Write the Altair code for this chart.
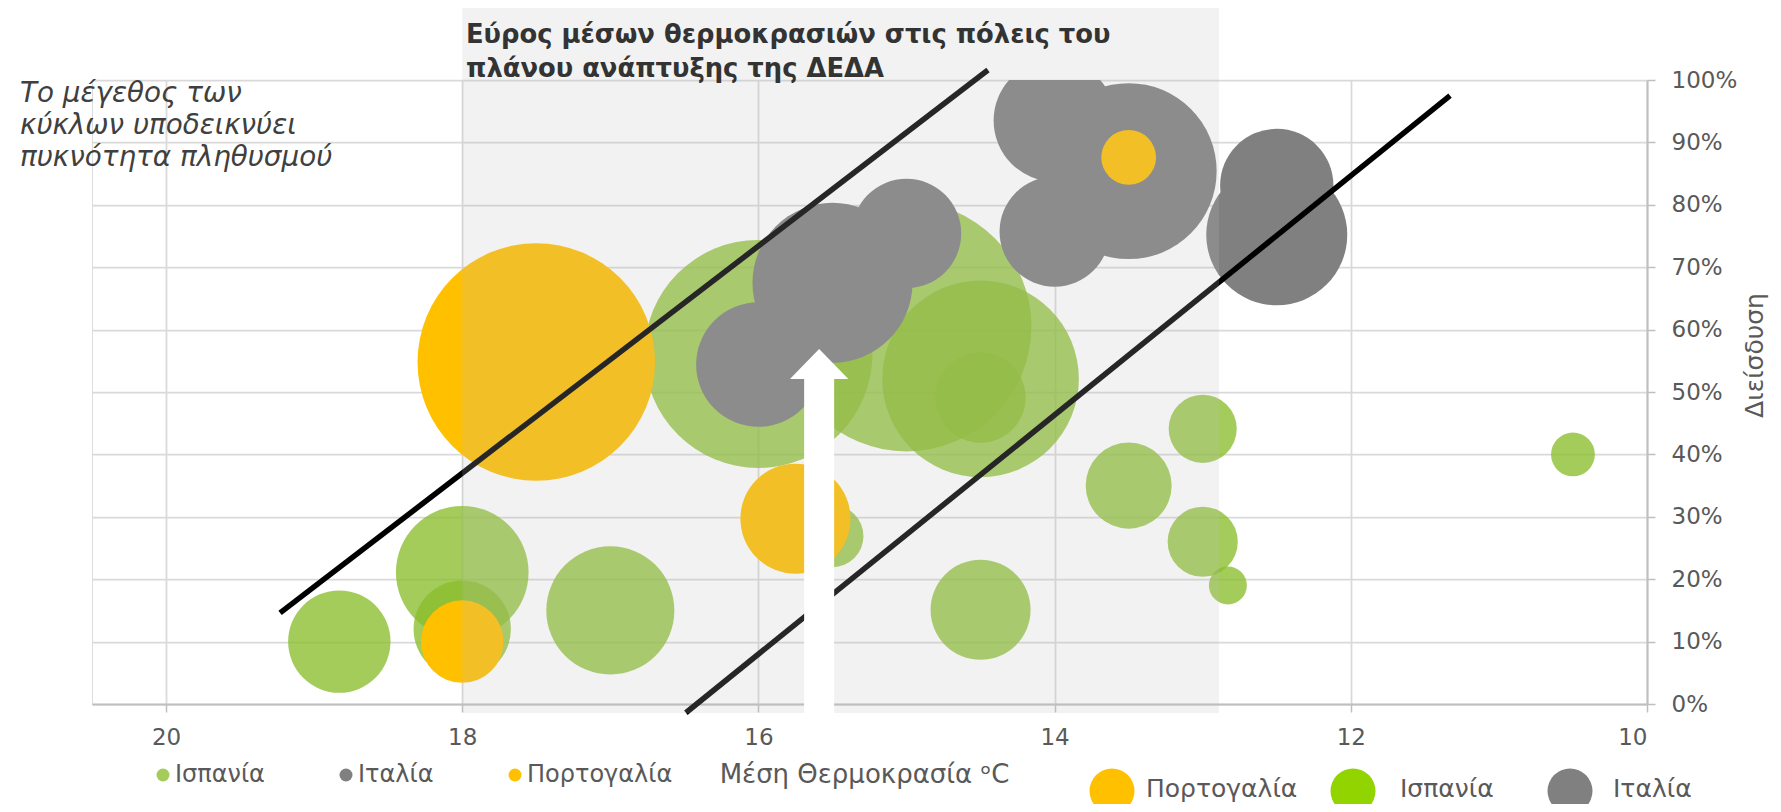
import altair as alt
import pandas as pd

# ---------------- data ----------------
countries = ["Ισπανία", "Ιταλία", "Πορτογαλία"]

es_temp = [18.83, 18.0, 18.0, 17.0, 16.0, 15.0, 14.5, 14.5, 13.5, 13.0, 13.0, 12.83, 10.5, 14.5, 15.5]
es_pen = [10.0, 21.1, 12.0, 15.0, 56.1, 60.5, 52.1, 49.1, 35.0, 44.1, 26.0, 19.0, 40.0, 15.1, 26.9]
es_dens = [26.2, 44.0, 23.7, 41.0, 130.0, 156.0, 96.6, 20.3, 18.5, 11.6, 12.3, 3.6, 4.8, 25.0, 9.6]

it_temp = [16.0, 15.5, 15.0, 14.0, 14.0, 13.5, 12.5, 12.5]
it_pen = [54.4, 67.5, 75.4, 75.7, 93.5, 85.4, 83.1, 75.2]
it_dens = [38.8, 64.0, 29.9, 30.3, 37.2, 77.4, 32.1, 49.7]

pt_temp = [17.5, 15.75, 18.0, 13.5]
pt_pen = [54.8, 29.7, 10.0, 87.6]
pt_dens = [141.0, 30.3, 17.0, 7.5]

# guide lines (temperature, penetration) start / end
line_x1 = [19.23, 16.49]
line_y1 = [14.6, -1.4]
line_x2 = [14.45, 11.33]
line_y2 = [101.6, 97.5]

band_x = [18.0, 12.89]          # shaded temperature range
arrow_x = [15.59]
arrow_top = [52.1]

x_ticks = [20, 18, 16, 14, 12, 10]
y_ticks = [0, 10, 20, 30, 40, 50, 60, 70, 80, 90, 100]

title_lines = ["Εύρος μέσων θερμοκρασιών στις πόλεις του", "πλάνου ανάπτυξης της ΔΕΔΑ"]
note_lines = ["Το μέγεθος των", "κύκλων υποδεικνύει", "πυκνότητα πληθυσμού"]
legend2_labels = ["Πορτογαλία", "Ισπανία", "Ιταλία"]
legend2_colors = ["#FFC000", "#92D400", "#808080"]

# ---------------- tables ----------------
bub = pd.concat([
    pd.DataFrame({"country": countries[0], "temp": es_temp, "pen": es_pen, "dens": es_dens}),
    pd.DataFrame({"country": countries[1], "temp": it_temp, "pen": it_pen, "dens": it_dens}),
    pd.DataFrame({"country": countries[2], "temp": pt_temp, "pen": pt_pen, "dens": pt_dens}),
], ignore_index=True)

lines = pd.DataFrame({"x1": line_x1, "y1": line_y1, "x2": line_x2, "y2": line_y2})
band = pd.DataFrame({"a": [band_x[0]], "b": [band_x[1]]})
arrow = pd.DataFrame({"x": arrow_x, "y": arrow_top})
one = pd.DataFrame({"k": [0]})

W, H = 1555, 624
TXT = "#595959"

xscale = alt.Scale(domain=[10, 20.5], reverse=True, nice=False, zero=False)
yscale = alt.Scale(domain=[0, 100], nice=False, zero=False)

bubbles = alt.Chart(bub).mark_circle(opacity=1, clip=True, strokeWidth=0).encode(
    x=alt.X("temp:Q", scale=xscale, axis=alt.Axis(
        values=x_ticks, format="d", labelFontSize=23, labelColor=TXT, labelPadding=14,
        tickSize=8, tickColor="#BFBFBF", tickWidth=1.5, domainColor="#BFBFBF", domainWidth=2,
        gridColor="#D9D9D9", gridWidth=1.75,
        title="Μέση Θερμοκρασία ᵒC", titleX=772, titleY=70, titleAlign="center",
        titleBaseline="middle", titleFontSize=26, titleFontWeight="normal", titleColor=TXT)),
    y=alt.Y("pen:Q", scale=yscale, axis=alt.Axis(
        orient="right", values=y_ticks, labelExpr="datum.value + '%'", labelAlign="left",
        labelFontSize=23, labelColor=TXT, labelPadding=16, tickSize=8, tickColor="#BFBFBF",
        tickWidth=1.5, domainColor="#BFBFBF", domainWidth=2, gridColor="#D9D9D9", gridWidth=1.75,
        title="Διείσδυση", titleAngle=270, titleX=107, titleY=275, titleAlign="center",
        titleBaseline="middle", titleFontSize=25, titleFontWeight="normal", titleColor=TXT)),
    size=alt.Size("dens:Q", scale=alt.Scale(type="linear", domain=[0, 100], range=[0, 40000]), legend=None),
    color=alt.Color("country:N", scale=alt.Scale(
        domain=countries, range=["rgba(137,188,42,0.77)", "#808080", "#FFC000"]),
        legend=alt.Legend(orient="none", legendX=59, legendY=683, direction="horizontal",
                          title=None, symbolType="circle", symbolSize=169, symbolStrokeWidth=0,
                          labelFontSize=24, labelColor=TXT, labelOffset=0, columnPadding=69,
                          padding=0)),
)

guide = alt.Chart(lines).mark_rule(color="#000000", strokeWidth=5.5, strokeCap="butt").encode(
    x=alt.X("x1:Q", scale=xscale), y=alt.Y("y1:Q", scale=yscale),
    x2="x2:Q", y2="y2:Q")

shade = alt.Chart(band).mark_rect(color="#BDBDBD", opacity=0.2).encode(
    x=alt.X("a:Q", scale=xscale), x2="b:Q",
    y=alt.value(-72), y2=alt.value(633))

shaft = alt.Chart(arrow).mark_rule(color="white", strokeWidth=30, strokeCap="butt").encode(
    x=alt.X("x:Q", scale=xscale), y=alt.Y("y:Q", scale=yscale),
    y2=alt.value(633))

head = alt.Chart(arrow).mark_point(shape="M-1,0L1,0L0,-1.02Z", filled=True, color="white",
                                   opacity=1, size=3411, strokeWidth=0).encode(
    x=alt.X("x:Q", scale=xscale), y=alt.Y("y:Q", scale=yscale))

title = alt.Chart(one).mark_text(align="left", baseline="middle", fontSize=25.8, fontWeight="bold",
                                 font="DejaVu Sans", color="#333333", lineHeight=34, lineBreak="\n").encode(
    x=alt.value(374), y=alt.value(-45), text=alt.value("\n".join(title_lines)))

note = alt.Chart(one).mark_text(align="left", baseline="middle", fontSize=27.8, fontStyle="italic",
                                font="DejaVu Sans", color="#404040", lineHeight=32, lineBreak="\n").encode(
    x=alt.value(-72), y=alt.value(14), text=alt.value("\n".join(note_lines)))

# second (large) legend
leg_sym_x = [1020, 1261, 1478]
leg_txt_x = [1054, 1308, 1521]
legend_layers = []
for lab, col, sx, tx in zip(legend2_labels, legend2_colors, leg_sym_x, leg_txt_x):
    legend_layers.append(alt.Chart(one).mark_circle(size=2025, color=col, opacity=1).encode(
        x=alt.value(sx), y=alt.value(711)))
    legend_layers.append(alt.Chart(one).mark_text(align="left", baseline="middle", fontSize=25,
                                                  color=TXT, font="DejaVu Sans").encode(
        x=alt.value(tx), y=alt.value(709), text=alt.value(lab)))

chart = alt.layer(bubbles, guide, shade, shaft, head, title, note, *legend_layers).properties(
    width=W, height=H,
    autosize=alt.AutoSizeParams(type="none"),
    padding={"left": 84, "top": 72, "right": 126, "bottom": 100},
).configure_view(strokeWidth=0).configure(font="DejaVu Sans")

chart.save("out.html", embed_options={"renderer": "svg", "actions": False})
